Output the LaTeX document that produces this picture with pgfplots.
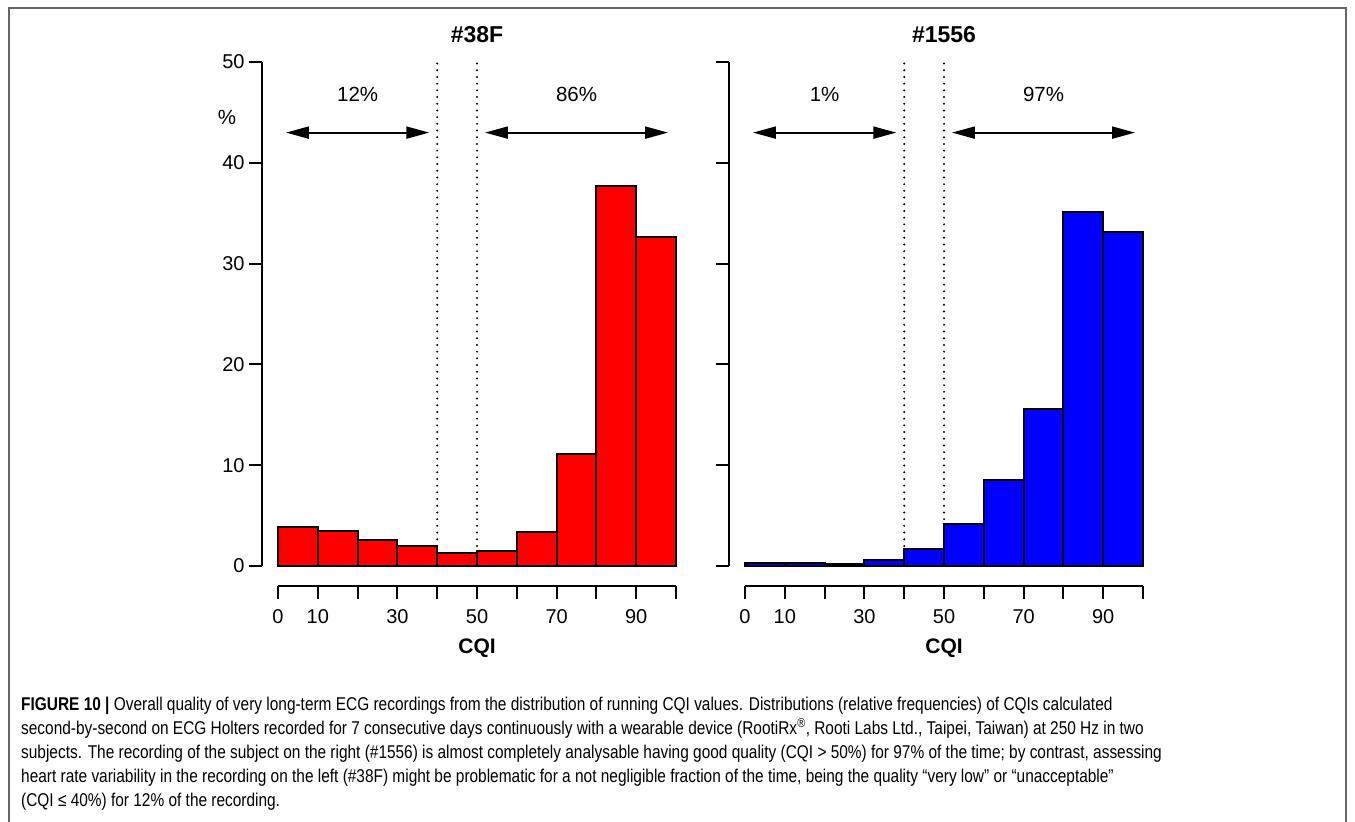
\documentclass[border=0pt]{standalone}
\usepackage{fontspec}
\setmainfont{Liberation Sans}
\newfontfamily\capfont{Liberation Sans}[FakeStretch=0.834]
\usepackage{pgfplots}
\usepackage{pgfplotstable}
\pgfplotsset{compat=1.18}
\usetikzlibrary{arrows.meta}

% relative frequencies (%) of CQI per 10-point bin; bin start in column lo
\pgfplotstableread{
lo pct
0 3.9
10 3.5
20 2.55
30 2.0
40 1.3
50 1.45
60 3.4
70 11.1
80 37.7
90 32.6
100 0
}\subjA

\pgfplotstableread{
lo pct
0 0.33
10 0.3
20 0.2
30 0.56
40 1.65
50 4.17
60 8.5
70 15.6
80 35.1
90 33.1
100 0
}\subjB

\pgfplotsset{
  histo/.style={
    scale only axis, width=429.84pt, height=544.32pt,
    xmin=-4, xmax=104, ymin=-2, ymax=52,
    axis x line*=bottom, axis y line*=left,
    x axis line style={draw=none}, y axis line style={draw=none},
    xtick={0,10,...,100}, xticklabels={0,10,,30,,50,,70,,90,},
    ytick={0,10,...,50},
    tick align=outside, major tick length=13pt,
    tick style={black, line width=2pt},
    /pgf/number format/assume math mode=true,
    tick label style={font=\fontsize{20}{23}\selectfont},
    xticklabel style={yshift=-7pt},
    yticklabel style={xshift=-1pt},
    clip=false,
  },
}
\tikzset{
  bars/.style={ybar interval, draw=black, line width=2pt, line join=miter},
  cut/.style={black, line width=2.2pt, dash pattern=on 0pt off 6.7pt, line cap=round},
  span/.style={line width=2pt,
    {Triangle[length=23pt,width=12pt]}-{Triangle[length=23pt,width=12pt]}},
  pct/.style={font=\fontsize{20.5}{24}\selectfont},
  ttl/.style={font=\bfseries\fontsize{23}{26}\selectfont},
  xl/.style={font=\bfseries\fontsize{21}{24}\selectfont},
}

\begin{document}
\begin{tikzpicture}
\path[use as bounding box] (0pt,0pt) rectangle (1355pt,-822pt);
\draw[black!60, line width=2pt] (9pt,-822pt) -- (9pt,-8pt) -- (1346pt,-8pt) -- (1346pt,-822pt);

% subject #38F
\begin{axis}[histo, at={(262.1pt,-586.2pt)}, anchor=south west,
  yticklabels={0,10,20,30,40,50}]
  \addplot[cut] coordinates {(40,0) (40,50)};
  \addplot[cut] coordinates {(50,0) (50,50)};
  \addplot[bars, fill=red] table[x=lo, y=pct] {\subjA};
  \draw[line width=2pt] (axis cs:0,-2) -- (axis cs:100,-2);
  \draw[line width=2pt] (axis cs:-4,0) -- (axis cs:-4,50);
  \draw[span] (axis cs:2,43) -- (axis cs:38,43);
  \draw[span] (axis cs:52,43) -- (axis cs:98,43);
  \node[pct] at (axis cs:20,46.8) {12\%};
  \node[pct] at (axis cs:75,46.8) {86\%};
  \node[pct] at (axis cs:-12.8,44.5) {\%};
  \node[ttl] at (axis cs:50,52.7) {\#38F};
  \node[xl] at (axis cs:50,-8.2) {CQI};
\end{axis}

% subject #1556
\begin{axis}[histo, at={(729.1pt,-586.2pt)}, anchor=south west,
  yticklabels={}]
  \addplot[cut] coordinates {(40,0) (40,50)};
  \addplot[cut] coordinates {(50,0) (50,50)};
  \addplot[bars, fill=blue] table[x=lo, y=pct] {\subjB};
  \draw[line width=2pt] (axis cs:0,-2) -- (axis cs:100,-2);
  \draw[line width=2pt] (axis cs:-4,0) -- (axis cs:-4,50);
  \draw[span] (axis cs:2,43) -- (axis cs:38,43);
  \draw[span] (axis cs:52,43) -- (axis cs:98,43);
  \node[pct] at (axis cs:20,46.8) {1\%};
  \node[pct] at (axis cs:75,46.8) {97\%};
  \node[ttl] at (axis cs:50,52.7) {\#1556};
  \node[xl] at (axis cs:50,-8.2) {CQI};
\end{axis}

% caption
\begin{scope}[every node/.style={anchor=base west, inner sep=0pt,
    font=\capfont\fontsize{18.5}{24}\selectfont}]
\node at (21pt,-710pt) {\textbf{FIGURE 10 |} Overall quality of very long-term ECG recordings from the distribution of running CQI values. Distributions (relative frequencies) of CQIs calculated};
\node at (21pt,-734pt) {second-by-second on ECG Holters recorded for 7 consecutive days continuously with a wearable device (RootiRx\textsuperscript{®}, Rooti Labs Ltd., Taipei, Taiwan) at 250 Hz in two};
\node at (21pt,-758pt) {subjects. The recording of the subject on the right (\#1556) is almost completely analysable having good quality (CQI > 50\%) for 97\% of the time; by contrast, assessing};
\node at (21pt,-782pt) {heart rate variability in the recording on the left (\#38F) might be problematic for a not negligible fraction of the time, being the quality “very low” or “unacceptable”};
\node at (21pt,-806pt) {(CQI ≤ 40\%) for 12\% of the recording.};
\end{scope}
\end{tikzpicture}
\end{document}
